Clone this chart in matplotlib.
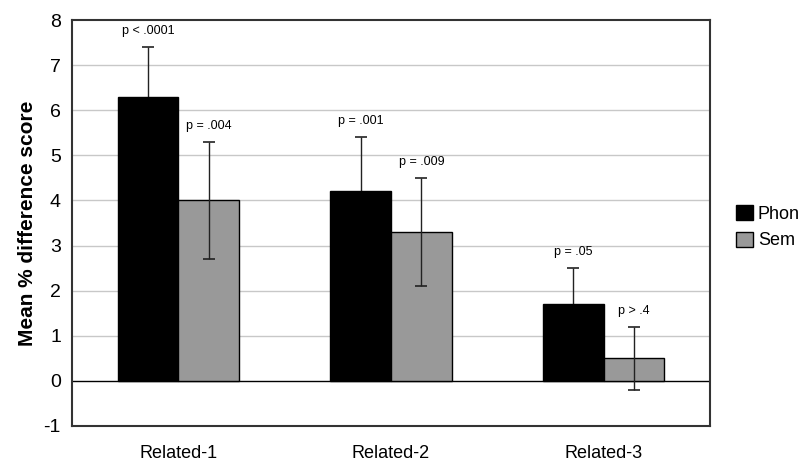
import numpy as np
import matplotlib.pyplot as plt

plt.rcParams['font.family'] = ['Liberation Sans', 'DejaVu Sans']

categories = ['Related-1', 'Related-2', 'Related-3']
phon = [6.3, 4.2, 1.7]
sem = [4.0, 3.3, 0.5]
phon_err = [1.1, 1.2, 0.8]
sem_err = [1.3, 1.2, 0.7]
phon_p = ['p < .0001', 'p = .001', 'p = .05']
sem_p = ['p = .004', 'p = .009', 'p > .4']

fig = plt.figure(figsize=(8, 4.73), dpi=100)
ax = fig.add_axes([0.09, 0.0994, 0.7975, 0.8583])

x = np.arange(len(categories))
w = 0.286

ax.bar(x - w / 2, phon, w, color='black', edgecolor='black', linewidth=1, label='Phon', zorder=2)
ax.bar(x + w / 2, sem, w, color='#999999', edgecolor='black', linewidth=1, label='Sem', zorder=2)
# Phon error bars sit behind the bars, so only the upper half shows
ax.errorbar(x - w / 2, phon, yerr=phon_err, fmt='none', ecolor='#222222',
            elinewidth=1, capsize=4, capthick=1.2, zorder=1.5)
ax.errorbar(x + w / 2, sem, yerr=sem_err, fmt='none', ecolor='#222222', elinewidth=1, capsize=4, capthick=1.2, zorder=3)

# p-value labels above the error bars
for i in range(len(categories)):
    ax.text(x[i] - w / 2, phon[i] + phon_err[i] + 0.22, phon_p[i], ha='center', va='bottom', fontsize=9)
    ax.text(x[i] + w / 2, sem[i] + sem_err[i] + 0.22, sem_p[i], ha='center', va='bottom', fontsize=9)

ax.set_xlim(-0.5, 2.5)
ax.set_ylim(-1, 8)
ax.set_yticks(range(-1, 9))
ax.set_yticklabels([str(v) for v in range(-1, 9)], fontsize=14)
ax.set_xticks(x)
ax.set_xticklabels(categories, fontsize=13)
ax.tick_params(axis='both', length=0, pad=8)
ax.tick_params(axis='x', pad=14)

for v in range(1, 8):
    ax.axhline(v, color='#c8c8c8', linewidth=1, zorder=0)
ax.axhline(0, color='black', linewidth=1, zorder=1)

for s in ax.spines.values():
    s.set_color('#333333')
    s.set_linewidth(1.5)

ax.set_ylabel('Mean % difference score', fontsize=15, fontweight='bold', labelpad=5)

fig.legend(loc='center left', bbox_to_anchor=(0.9, 0.52), frameon=False, fontsize=13,
           handlelength=0.9, handleheight=0.9, handletextpad=0.3, labelspacing=0.5)

plt.savefig('out.png', dpi=100)
